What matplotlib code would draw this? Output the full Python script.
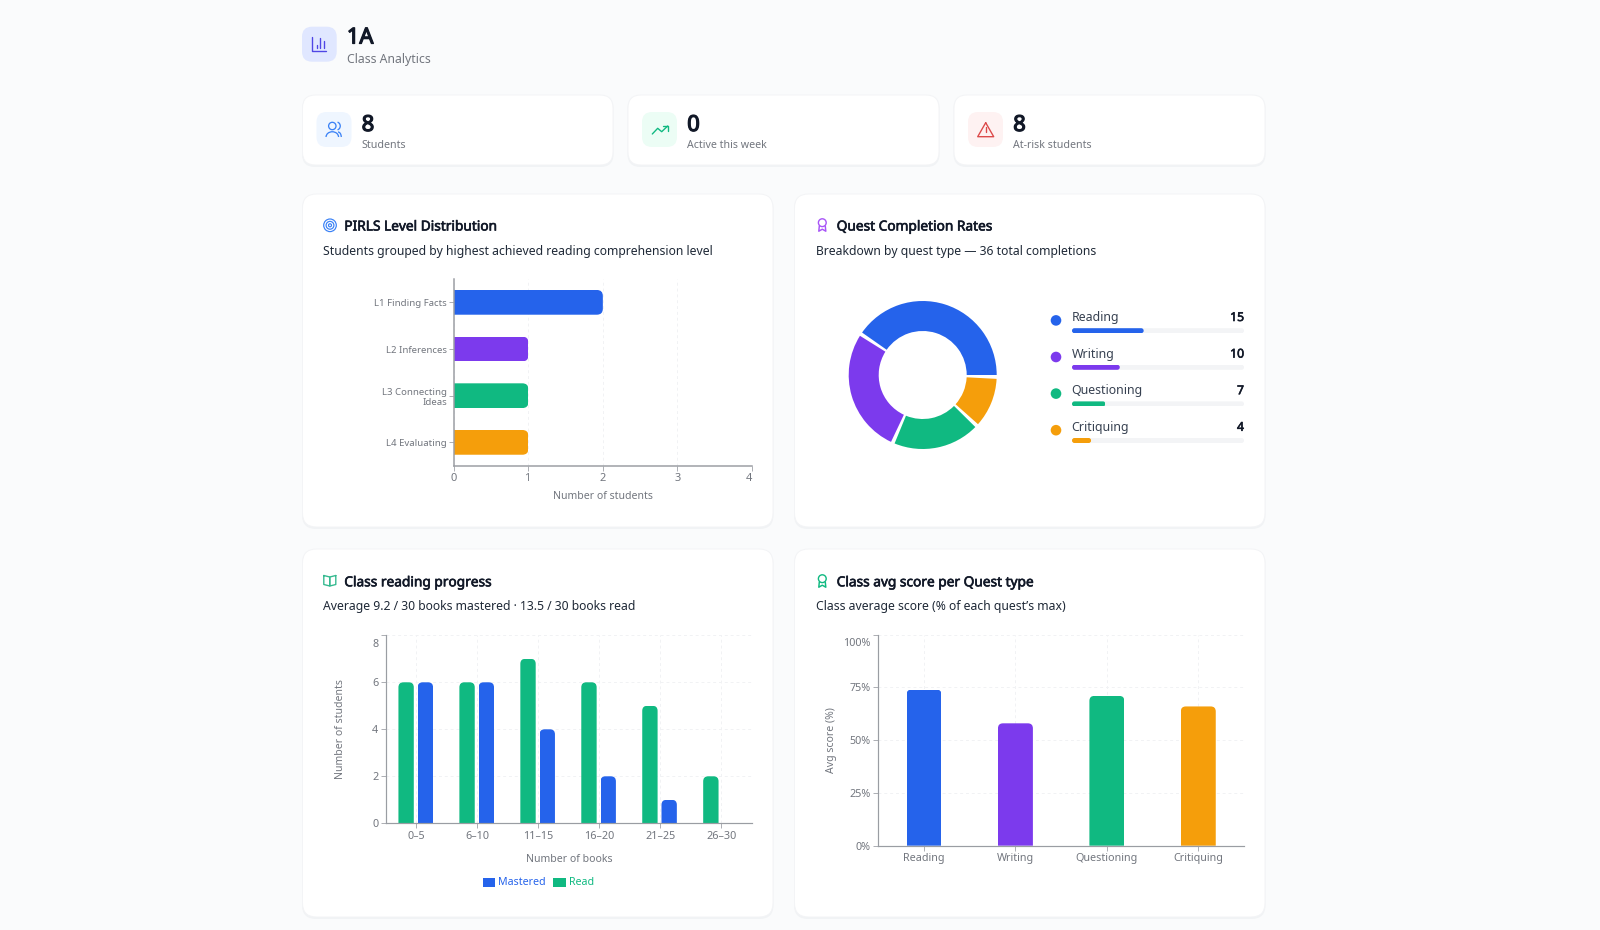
import matplotlib
matplotlib.use('Agg')
import matplotlib.pyplot as plt
import matplotlib.patheffects as pe
from matplotlib.patches import FancyBboxPatch, Circle, Arc, Rectangle
from matplotlib.path import Path
from matplotlib.transforms import ScaledTranslation

plt.rcParams['font.family'] = ['Noto Sans', 'DejaVu Sans']

W, H = 1600, 930
PT = 0.72  # px -> pt at dpi 100

BLUE = '#2563eb'
PURPLE = '#7c3aed'
GREEN = '#10b981'
ORANGE = '#f59e0b'
INK = '#111827'
BODY = '#1f2937'
MUTED = '#72767e'
AXIS = '#9a9da3'
GRID = '#f1f2f4'

class_name = '1A'
class_sub = 'Class Analytics'
stat_values = ['8', '0', '8']
stat_labels = ['Students', 'Active this week', 'At-risk students']

pirls_levels = ['L1 Finding Facts', 'L2 Inferences', 'L3 Connecting\nIdeas', 'L4 Evaluating']
pirls_counts = [2, 1, 1, 1]
pirls_ticks = [0, 1, 2, 3, 4]

quest_types = ['Reading', 'Writing', 'Questioning', 'Critiquing']
quest_counts = [15, 10, 7, 4]
quest_total = 36

book_bins = ['0–5', '6–10', '11–15', '16–20', '21–25', '26–30']
books_read = [6, 6, 7, 6, 5, 2]
books_mastered = [6, 6, 4, 2, 1, 0]
book_ticks = [0, 2, 4, 6, 8]

avg_scores = [74, 58, 71, 66]
score_ticks = [0, 25, 50, 75, 100]

quest_colors = [BLUE, PURPLE, GREEN, ORANGE]

fig = plt.figure(figsize=(W / 100, H / 100), dpi=100, facecolor='#fafbfc')

page = fig.add_axes([0, 0, 1, 1], zorder=0)
page.set_xlim(0, W)
page.set_ylim(H, 0)
page.axis('off')


def px_axes(x0, y0, x1, y1, z=2):
    ax = fig.add_axes([x0 / W, 1 - y1 / H, (x1 - x0) / W, (y1 - y0) / H], zorder=z)
    ax.patch.set_alpha(0)
    return ax


def box(x0, y0, x1, y1, r, fc, ec='none', lw=0, z=1):
    p = FancyBboxPatch((x0, y0), x1 - x0, y1 - y0, boxstyle='round,pad=0,rounding_size=%g' % r,
                       fc=fc, ec=ec, lw=lw, zorder=z)
    page.add_patch(p)


def card(x0, y0, x1, y1, r=14):
    box(x0 - 0.5, y0 + 1, x1 + 0.5, y1 + 2, r, '#f1f3f5')
    box(x0, y0, x1, y1, r, 'white', '#f3f4f6', 0.7, z=1.1)


def label(x, y, s, size, color=BODY, thick=0, ha='left'):
    # Noto Sans only comes in one weight here, so heavier text gets an outline
    t = page.text(x, y, s, fontsize=size * PT, color=color, ha=ha, va='center', zorder=3)
    if thick:
        t.set_path_effects([pe.withStroke(linewidth=thick, foreground=color)])


def stroke(xs, ys, color, lw=1.5):
    page.plot(xs, ys, color=color, lw=lw * PT * 1.05, solid_capstyle='round', solid_joinstyle='round', zorder=3)


def ring(x, y, r, color, lw=1.5):
    page.add_patch(Circle((x, y), r, fc='none', ec=color, lw=lw * PT, zorder=3))


def award(cx, cy, color):
    ring(cx, cy, 3.9, color, 1.4)
    stroke([cx - 3, cx - 3.5, cx, cx + 3.5, cx + 3], [cy + 3.5, cy + 8.5, cy + 6.5, cy + 8.5, cy + 3.5], color, 1.4)


def round_corners(ax, bar, r, corners):
    # clip a bar to a rounded outline, r is in pixels
    bb = ax.get_window_extent()
    rx = r * abs(ax.get_xlim()[1] - ax.get_xlim()[0]) / bb.width
    ry = r * abs(ax.get_ylim()[1] - ax.get_ylim()[0]) / bb.height
    x0, x1 = bar.get_x(), bar.get_x() + bar.get_width()
    y0, y1 = bar.get_y(), bar.get_y() + bar.get_height()
    pts = [(x0, y0, 'bl', 1, 1), (x1, y0, 'br', -1, 1), (x1, y1, 'tr', -1, -1), (x0, y1, 'tl', 1, -1)]
    verts, codes = [], []
    for k, (x, y, name, sx, sy) in enumerate(pts):
        if name in corners:
            if k % 2 == 0:
                a, b = (x, y + sy * ry), (x + sx * rx, y)
            else:
                a, b = (x + sx * rx, y), (x, y + sy * ry)
            verts += [a, (x, y), b]
            codes += [Path.MOVETO if k == 0 else Path.LINETO, Path.CURVE3, Path.CURVE3]
        else:
            verts.append((x, y))
            codes.append(Path.MOVETO if k == 0 else Path.LINETO)
    verts.append(verts[0])
    codes.append(Path.CLOSEPOLY)
    bar.set_clip_path(Path(verts, codes), ax.transData)


def style_axes(ax, tick_size=10.8, spine=1.2):
    ax.spines['top'].set_visible(False)
    ax.spines['right'].set_visible(False)
    for s in ['left', 'bottom']:
        ax.spines[s].set_color(AXIS)
        ax.spines[s].set_linewidth(spine * PT)
    ax.set_axisbelow(True)
    ax.tick_params(colors=AXIS, labelcolor=MUTED, length=5 * PT, width=0.8 * PT, labelsize=tick_size * PT, pad=2)


def top_tick_down(ax):
    # the top label sits inside the plot range instead of on its tick
    lab = ax.get_yticklabels()[-1]
    lab.set_va('top')
    lab.set_transform(lab.get_transform() + ScaledTranslation(0, -3.5 / 100, fig.dpi_scale_trans))


# header
box(302, 26.7, 336.7, 61.7, 10, '#e0e7ff')
stroke([312, 312, 326], [37, 51, 51], '#4f46e5', 1.3)
stroke([316.7, 316.7], [45.5, 48], '#4f46e5', 1.3)
stroke([320.3, 320.3], [38.5, 48], '#4f46e5', 1.3)
stroke([324.3, 324.3], [41.5, 48], '#4f46e5', 1.3)
label(346.8, 38, class_name, 22, INK, 0.9)
label(346.8, 60, class_sub, 12.25, MUTED)

# stat cards
stat_x = [(302.5, 613), (628, 939), (954, 1265)]
stat_bg = ['#eff6ff', '#ecfdf5', '#fef2f2']
for (x0, x1), v, s, bg in zip(stat_x, stat_values, stat_labels, stat_bg):
    card(x0, 95, x1, 165, 13)
    box(x0 + 14, 112, x0 + 49, 147, 10, bg, z=1.2)
    label(x0 + 59.2, 125.5, v, 22, INK, 0.9)
    label(x0 + 59.2, 146, s, 10.6, MUTED)

c = '#3b82f6'
ring(332.3, 126, 3.7, c, 1.3)
page.add_patch(Arc((332.3, 137), 12.5, 10.5, theta1=180, theta2=360, ec=c, lw=1.3 * PT, zorder=3))
page.add_patch(Arc((336.5, 126), 7.5, 8, theta1=-75, theta2=75, ec=c, lw=1.3 * PT, zorder=3))
page.add_patch(Arc((338, 137), 6.5, 10, theta1=270, theta2=360, ec=c, lw=1.3 * PT, zorder=3))
c = GREEN
stroke([652.3, 657.7, 661.7, 667.7], [134, 128.3, 131.7, 126], c, 1.3)
stroke([662.7, 667.7, 667.7], [126, 126, 130.7], c, 1.3)
c = '#dc4a4a'
stroke([985.7, 993.7, 977.7, 985.7], [122.7, 136.7, 136.7, 122.7], c, 1.3)
stroke([985.7, 985.7], [127.5, 131.7], c, 1.3)
stroke([985.7, 985.8], [134.4, 134.4], c, 1.3)

# panels
panels = [(302.5, 194, 773, 527), (794.5, 194, 1265, 527), (302.5, 549, 773, 917), (794.5, 549, 1265, 917)]
for p in panels:
    card(*p)

label(344.3, 227, 'PIRLS Level Distribution', 13.7, INK, 0.45)
label(323, 251, 'Students grouped by highest achieved reading comprehension level', 12.2, BODY)
label(836.7, 227, 'Quest Completion Rates', 13.7, INK, 0.45)
label(816, 251, 'Breakdown by quest type — 36 total completions', 12.2, BODY)
label(344.3, 582.8, 'Class reading progress', 13.7, INK, 0.45)
label(323, 606.5, 'Average 9.2 / 30 books mastered · 13.5 / 30 books read', 12.2, BODY)
label(836.7, 582.8, 'Class avg score per Quest type', 13.7, INK, 0.45)
label(816, 606.5, 'Class average score (% of each quest’s max)', 12.2, BODY)

c = '#3b82f6'
ring(330, 225.3, 6.3, c, 1.2)
ring(330, 225.3, 3.9, c, 1.2)
ring(330, 225.3, 1.5, c, 1.2)
award(822.3, 222.7, '#a855f7')
c = '#34b98f'
stroke([323.8, 329.8, 329.8, 323.8, 323.8], [575.5, 577, 586, 584.5, 575.5], c, 1.3)
stroke([335.8, 329.8, 329.8, 335.8, 335.8], [575.5, 577, 586, 584.5, 575.5], c, 1.3)
award(822.3, 578.7, GREEN)

# PIRLS bars
ax1 = px_axes(454, 279, 751.7, 465.7)
ax1.set_xlim(0, 4)
ax1.set_ylim(3.5, -0.5)
bars = ax1.barh(range(4), pirls_counts, height=0.53, color=quest_colors)
for b in bars:
    round_corners(ax1, b, 6, ['tr', 'br'])
style_axes(ax1, 11, 1.5)
ax1.set_yticks(range(4))
ax1.set_yticklabels(pirls_levels, fontsize=9.6 * PT, linespacing=1.15)
ax1.tick_params(axis='y', pad=1.3)
ax1.set_xticks(pirls_ticks)
ax1.xaxis.grid(True, color=GRID, lw=0.7, ls=(0, (3, 3)))
ax1.get_xticklabels()[-1].set_ha('right')
ax1.set_xlabel('Number of students', fontsize=10.5 * PT, color=MUTED, labelpad=4.5)

# donut, 3 degree gaps between the slices
gap = quest_total / 29 * 30 / 120
ax2 = px_axes(842.7, 295, 1002.7, 455)
ax2.pie([v for n in quest_counts for v in (n, gap)],
        colors=[v for col in quest_colors for v in (col, 'none')],
        startangle=0, counterclock=True, radius=1, wedgeprops={'width': 30 / 74})
ax2.set_xlim(-80 / 74, 80 / 74)
ax2.set_ylim(-80 / 74, 80 / 74)

# quest legend with progress tracks
ax_q = px_axes(1072, 312, 1244, 455.8)
ax_q.set_xlim(0, quest_total)
ax_q.set_ylim(3 + 15.3 / 36.6, -18.7 / 36.6)
ax_q.axis('off')
track = ax_q.barh(range(4), [quest_total] * 4, height=5 / 36.6, color='#f3f4f6')
fill = ax_q.barh(range(4), quest_counts, height=5 / 36.6, color=quest_colors)
for b in list(track) + list(fill):
    round_corners(ax_q, b, 2.5, ['tl', 'tr', 'bl', 'br'])
for i, (name, n, col) in enumerate(zip(quest_types, quest_counts, quest_colors)):
    yy = 316.7 + i * 36.6
    page.add_patch(Circle((1056, yy + 3.7), 5.3, fc=col, ec='none', zorder=3))
    label(1071.5, yy + 0.8, name, 12.4, '#374151')
    label(1244, yy + 0.8, str(n), 12.2, INK, 0.45, ha='right')

# books histogram
ax3 = px_axes(386, 635.3, 751.7, 823.3)
ax3.set_xlim(-0.5, 5.5)
ax3.set_ylim(0, 8)
pos = list(range(6))
read_bars = ax3.bar([p - 0.17 for p in pos], books_read, width=0.252, color=GREEN)
mast_bars = ax3.bar([p + 0.146 for p in pos], books_mastered, width=0.252, color=BLUE)
for b in list(read_bars) + list(mast_bars):
    round_corners(ax3, b, 5, ['tl', 'tr'])
style_axes(ax3)
ax3.set_xticks(pos)
ax3.set_xticklabels(book_bins)
ax3.set_yticks(book_ticks)
ax3.grid(True, color=GRID, lw=0.7, ls=(0, (3, 3)))
top_tick_down(ax3)
ax3.set_xlabel('Number of books', fontsize=10.5 * PT, color=MUTED, labelpad=8.5)
ax3.set_ylabel('Number of students', fontsize=10.5 * PT, color=MUTED, labelpad=18.5)

leg_y = 882.5
for x0, col, name in [(482.7, BLUE, 'Mastered'), (553.3, GREEN, 'Read')]:
    page.add_patch(Rectangle((x0, leg_y - 4.8), 12.3, 9.6, fc=col, ec='none', zorder=3))
    label(x0 + 15.3, leg_y, name, 10.6, col)

# avg score bars
ax4 = px_axes(878.3, 634.7, 1244, 845.7)
ax4.set_xlim(-0.5, 3.5)
ax4.set_ylim(0, 100)
bars = ax4.bar(range(4), avg_scores, width=0.382, color=quest_colors)
for b in bars:
    round_corners(ax4, b, 5, ['tl', 'tr'])
style_axes(ax4)
ax4.set_xticks(range(4))
ax4.set_xticklabels(quest_types)
ax4.set_yticks(score_ticks)
ax4.set_yticklabels(['%d%%' % t for t in score_ticks])
ax4.grid(True, color=GRID, lw=0.7, ls=(0, (3, 3)))
top_tick_down(ax4)
ax4.set_ylabel('Avg score (%)', fontsize=10.5 * PT, color=MUTED, labelpad=4.5)

fig.savefig('out.png', dpi=100, facecolor=fig.get_facecolor())
